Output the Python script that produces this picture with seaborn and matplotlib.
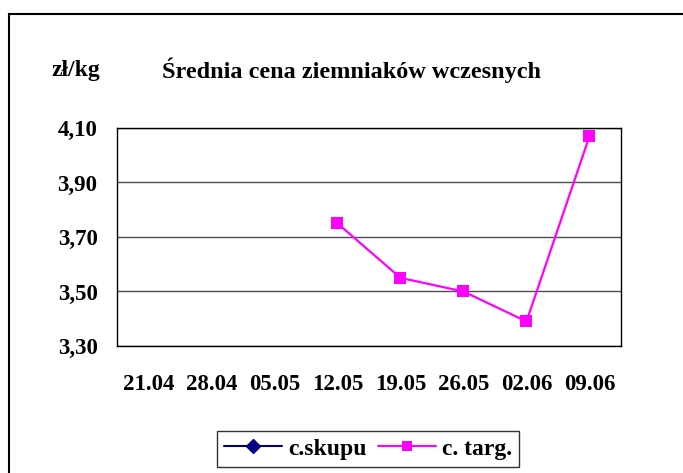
import numpy as np
import pandas as pd
import matplotlib
matplotlib.use("Agg")
import matplotlib.pyplot as plt
from matplotlib.lines import Line2D
from matplotlib.patches import Rectangle
import seaborn as sns

dates = ["21.04", "28.04", "05.05", "12.05", "19.05", "26.05", "02.06", "09.06"]
c_skupu = [np.nan, np.nan, np.nan, np.nan, np.nan, np.nan, np.nan, np.nan]
c_targ = [np.nan, np.nan, np.nan, 3.75, 3.55, 3.50, 3.39, 4.07]
yticks = [3.30, 3.50, 3.70, 3.90, 4.10]

sns.set_style("white")
plt.rcParams["font.family"] = ["Liberation Serif", "DejaVu Serif"]
plt.rcParams["font.weight"] = "bold"
plt.rcParams["text.color"] = "black"
plt.rcParams["xtick.color"] = "black"
plt.rcParams["ytick.color"] = "black"
plt.rcParams["xtick.labelcolor"] = "black"
plt.rcParams["ytick.labelcolor"] = "black"

df = pd.DataFrame({"pos": np.arange(len(dates)) + 0.5, "data": dates,
                   "c.skupu": c_skupu, "c. targ.": c_targ})

fig = plt.figure(figsize=(6.83, 4.73), dpi=100)
ax = fig.add_axes([0.1713, 0.2685, 0.7379, 0.4609])

navy = "#000080"
mag = "#FF00FF"
sns.lineplot(data=df.dropna(subset=["c. targ."]), x="pos", y="c. targ.", color=mag,
             marker="s", markersize=8, markeredgewidth=0, linewidth=1.6, ax=ax)

ax.set_xlim(0, len(dates))
ax.set_ylim(3.30, 4.10)
ax.set_yticks(yticks, [f"{v:.2f}".replace(".", ",") for v in yticks])
ax.set_xticks(np.arange(len(dates) + 1), [""] * (len(dates) + 1))
ax.set_xticks(np.arange(len(dates)) + 0.5, dates, minor=True)
ax.tick_params(axis="x", which="major", direction="out", length=5, width=1, color="black")
ax.tick_params(axis="x", which="minor", length=0, pad=20, labelsize=16.5, labelcolor="black")
ax.tick_params(axis="y", direction="out", length=7, width=1, color="black", pad=7,
               labelsize=16.5, labelcolor="black")
ax.set_xlabel("")
ax.set_ylabel("")
ax.grid(axis="y", color="0.3", linewidth=1)
ax.grid(axis="x", visible=False)
for s in ax.spines.values():
    s.set_color("black")
    s.set_linewidth(1)
    s.set_visible(True)

fig.text(0.111, 0.852, "zł/kg", ha="center", va="center", fontsize=17, fontweight="bold",
         color="black")
fig.text(0.515, 0.852, "Średnia cena ziemniaków wczesnych", ha="center", va="center",
         fontsize=17.5, fontweight="bold", color="black")

handles = [Line2D([], [], color=navy, marker="D", markersize=7.5, linewidth=1.5),
           Line2D([], [], color=mag, marker="s", markersize=7, markeredgewidth=0, linewidth=1.5)]
leg = fig.legend(handles, ["c.skupu", "c. targ."], loc="center", bbox_to_anchor=(0.539, 0.051),
                 ncol=2, frameon=True, fancybox=False, handlelength=2.45, columnspacing=0.5,
                 handletextpad=0.25, borderpad=0.3, borderaxespad=0,
                 prop={"size": 17, "weight": "bold"})
leg.get_frame().set_edgecolor("black")
leg.get_frame().set_linewidth(1)
for t in leg.get_texts():
    t.set_color("black")

fig.add_artist(Rectangle((9 / 683, -0.1), 1.2, 1.1 - 14 / 473, transform=fig.transFigure,
                         fill=False, edgecolor="black", linewidth=1.5))

fig.savefig("out.png", dpi=100)
